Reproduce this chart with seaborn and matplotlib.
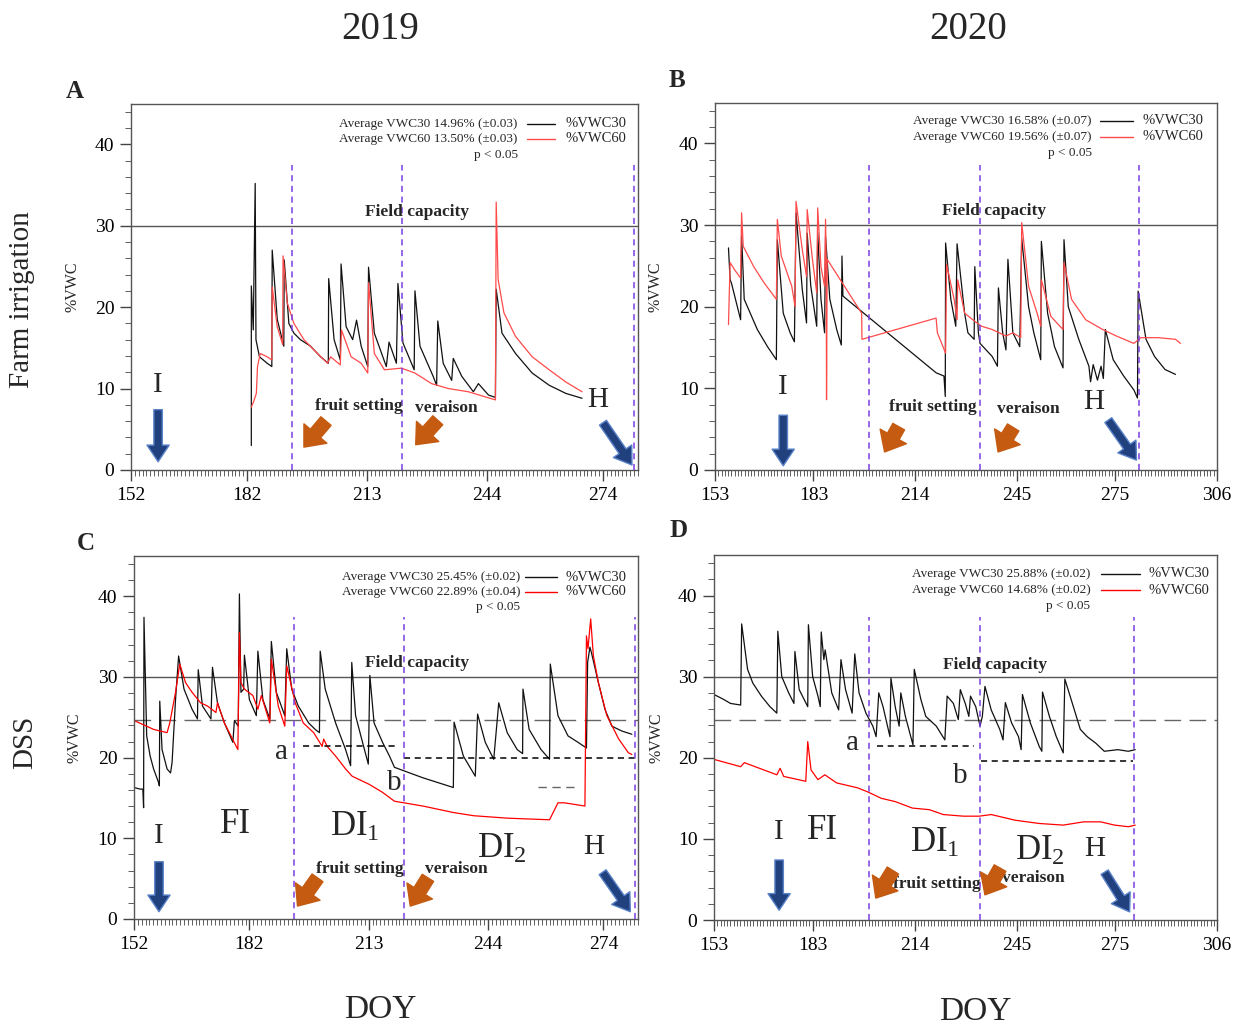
import matplotlib
matplotlib.use("Agg")
import matplotlib.pyplot as plt
import seaborn as sns
import pandas as pd
from matplotlib.ticker import MultipleLocator

# ---------------- data: (DOY, %VWC) ----------------
A_VWC30 = [(183.1, 3.0), (183.1, 22.6), (183.6, 17.2), (184.1, 35.2), (184.3, 16.0), (185.2, 13.9),
           (187.2, 13.1), (188.4, 12.7), (188.5, 27.0), (189.8, 18.5), (191.5, 15.2), (191.6, 25.8),
           (192.8, 18.0), (194.1, 16.8), (195.8, 16.0), (198.4, 15.2), (201.0, 13.9), (203.0, 13.1),
           (203.1, 23.5), (204.5, 16.0), (206.1, 13.5), (206.3, 25.3), (207.6, 17.6), (209.3, 16.0),
           (210.3, 18.4), (211.5, 15.2), (213.2, 12.7), (213.4, 24.9), (214.9, 16.8), (218.0, 12.7),
           (218.7, 15.7), (220.6, 13.1), (221.0, 22.9), (222.3, 15.6), (225.2, 12.3), (225.4, 22.0),
           (226.7, 15.2), (230.1, 11.5), (231.0, 10.4), (231.3, 18.3), (232.7, 13.1), (234.9, 11.0),
           (235.3, 13.7), (237.5, 11.5), (240.5, 9.6), (241.8, 10.6), (244.4, 9.2), (246.2, 8.9),
           (246.4, 22.2), (247.9, 16.8), (251.4, 14.3), (255.7, 11.9), (260.1, 10.4), (264.4, 9.4),
           (268.6, 8.8)]
A_VWC60 = [(183.1, 7.7), (183.7, 8.4), (184.4, 9.4), (184.7, 12.7), (185.4, 14.3), (187.2, 13.9),
           (188.4, 13.5), (188.5, 22.5), (189.8, 17.6), (191.2, 15.4), (191.3, 26.3), (192.4, 20.5),
           (194.1, 18.0), (196.7, 16.0), (200.2, 14.3), (202.8, 13.1), (203.6, 13.9), (206.1, 12.9),
           (206.4, 17.2), (208.9, 13.9), (211.5, 13.1), (213.2, 11.9), (213.4, 23.0), (214.9, 14.3),
           (217.5, 12.3), (221.9, 12.5), (225.4, 11.9), (229.7, 10.6), (234.0, 10.0), (239.2, 9.6),
           (242.7, 9.1), (246.2, 8.6), (246.4, 32.9), (246.9, 23.4), (248.4, 19.3), (251.4, 16.4),
           (255.7, 13.9), (260.1, 12.3), (264.4, 10.8), (268.6, 9.6)]

B_VWC30 = [(157.1, 27.2), (157.6, 23.3), (158.0, 22.9), (160.8, 18.4), (161.1, 28.7), (161.9, 20.9),
           (165.9, 17.2), (169.0, 15.1), (171.7, 13.5), (172.0, 28.2), (173.8, 19.2), (175.9, 16.8),
           (177.2, 15.7), (177.7, 31.5), (179.6, 22.1), (180.9, 18.0), (181.1, 29.0), (182.2, 22.5),
           (184.0, 17.6), (184.3, 29.1), (185.3, 20.9), (186.4, 16.8), (186.7, 28.6), (188.0, 20.9),
           (190.1, 17.2), (191.5, 15.3), (191.7, 26.2), (192.0, 21.3), (220.4, 11.9), (222.8, 11.5),
           (223.2, 9.0), (223.3, 27.8), (224.9, 20.9), (226.4, 17.6), (226.8, 27.7), (229.1, 19.2),
           (230.1, 16.8), (232.0, 16.0), (232.2, 24.9), (233.3, 16.8), (233.8, 15.5), (237.5, 13.9),
           (239.1, 12.7), (239.4, 22.3), (240.7, 16.8), (241.7, 14.7), (242.3, 25.8), (243.8, 16.8),
           (245.9, 15.1), (246.5, 28.4), (248.6, 20.0), (250.2, 16.8), (252.3, 13.5), (252.5, 28.0),
           (254.4, 19.2), (256.5, 15.1), (259.1, 12.5), (259.4, 28.2), (260.7, 20.0), (263.9, 16.0),
           (267.0, 12.7), (267.5, 10.8), (268.3, 12.9), (269.6, 11.0), (270.7, 12.7), (271.4, 11.2),
           (272.0, 17.2), (274.4, 13.5), (277.6, 11.5), (280.7, 9.8), (281.8, 8.8), (282.0, 21.9),
           (284.4, 16.0), (287.0, 13.9), (290.2, 12.3), (293.4, 11.7)]
B_VWC60 = [(157.1, 17.8), (157.6, 25.4), (159.0, 24.5), (160.8, 23.5), (161.1, 31.5), (161.6, 27.4),
           (164.8, 24.9), (168.0, 22.9), (171.7, 20.9), (172.0, 30.7), (173.2, 26.2), (176.4, 22.5),
           (177.4, 20.0), (177.7, 32.9), (179.6, 27.0), (180.9, 23.7), (181.1, 31.9), (182.7, 25.8),
           (184.0, 21.7), (184.3, 32.1), (185.3, 24.9), (186.4, 22.5), (186.7, 30.7), (186.9, 24.9),
           (187.0, 8.6), (187.2, 25.8), (197.7, 19.2), (197.8, 16.0), (220.4, 18.6), (220.8, 16.8),
           (223.3, 14.3), (223.6, 25.2), (225.9, 20.9), (226.8, 18.4), (227.0, 23.3), (229.1, 19.2),
           (232.2, 18.2), (234.3, 17.6), (237.5, 17.2), (241.7, 16.4), (243.8, 16.8), (246.2, 16.2),
           (246.5, 30.3), (248.6, 22.5), (251.2, 19.2), (252.3, 17.6), (252.5, 23.3), (255.4, 18.8),
           (259.1, 17.2), (259.4, 25.4), (261.7, 20.9), (266.0, 18.4), (271.2, 17.2), (275.4, 16.4),
           (280.7, 15.5), (282.8, 16.2), (288.1, 16.2), (293.4, 16.0), (294.9, 15.5)]

C_VWC30 = [(152.0, 16.3), (153.6, 16.1), (154.3, 16.1), (154.5, 13.8), (154.6, 37.4), (155.3, 22.7),
           (156.2, 20.2), (157.1, 18.6), (158.4, 16.9), (158.6, 16.5), (158.7, 27.0), (159.3, 21.0),
           (160.6, 18.6), (161.5, 18.1), (161.9, 19.4), (162.8, 27.2), (163.6, 32.6), (165.0, 28.5),
           (167.1, 26.0), (168.5, 24.8), (168.7, 30.9), (169.8, 26.4), (172.0, 24.8), (172.4, 31.2),
           (173.7, 26.8), (175.5, 24.3), (177.7, 21.9), (178.1, 24.6), (179.1, 23.9), (179.4, 40.3),
           (179.8, 28.1), (180.5, 28.5), (180.7, 32.7), (182.0, 27.2), (183.8, 25.2), (184.2, 33.2),
           (185.5, 27.2), (187.3, 24.8), (187.7, 34.4), (189.0, 28.1), (191.2, 25.2), (191.7, 33.5),
           (193.0, 28.5), (194.7, 26.4), (197.4, 24.3), (199.1, 23.5), (200.2, 23.1), (200.4, 33.2),
           (201.7, 28.5), (204.4, 24.3), (207.0, 21.0), (208.3, 19.0), (208.6, 31.8), (209.6, 25.2),
           (211.4, 21.9), (212.9, 19.2), (213.3, 30.2), (214.4, 24.3), (216.6, 21.9), (218.4, 20.2),
           (219.7, 18.8), (227.1, 17.5), (235.0, 16.3), (235.2, 24.4), (237.6, 20.2), (240.7, 17.7),
           (241.3, 25.4), (243.3, 21.9), (245.5, 19.8), (246.8, 26.8), (249.0, 23.1), (251.6, 21.0),
           (253.0, 20.5), (253.1, 28.5), (254.7, 23.5), (257.8, 21.0), (260.0, 19.8), (260.2, 31.6),
           (262.2, 25.2), (264.8, 22.7), (267.4, 21.9), (269.6, 21.2), (269.9, 31.8), (270.5, 33.7),
           (270.9, 33.0), (272.7, 29.3), (274.4, 26.0), (276.2, 23.9), (278.8, 23.3), (281.4, 22.9)]
C_VWC60 = [(152.0, 24.6), (155.3, 23.9), (157.1, 23.5), (160.6, 23.1), (161.3, 24.3), (162.8, 28.1),
           (163.9, 31.6), (165.4, 29.3), (167.1, 28.1), (169.3, 26.8), (171.1, 26.4), (173.3, 25.6),
           (173.7, 26.8), (175.5, 24.3), (177.2, 22.7), (179.0, 21.0), (179.4, 35.5), (179.8, 29.3),
           (180.7, 28.5), (182.9, 27.7), (184.2, 26.0), (185.1, 27.7), (187.3, 24.3), (187.7, 32.2),
           (189.5, 26.4), (191.2, 23.9), (191.7, 31.4), (193.9, 26.8), (196.0, 24.3), (198.7, 23.1),
           (200.9, 21.4), (201.3, 22.3), (202.2, 21.4), (204.4, 20.2), (207.0, 18.6), (208.7, 17.7),
           (213.1, 16.7), (216.6, 15.7), (219.7, 14.6), (227.1, 14.0), (235.0, 13.2), (240.3, 12.8),
           (249.0, 12.5), (260.0, 12.3), (262.2, 14.4), (263.9, 14.4), (269.2, 14.0), (269.6, 35.1),
           (270.0, 33.5), (270.7, 37.2), (271.4, 32.6), (272.7, 29.3), (274.9, 25.2), (278.0, 22.3),
           (280.5, 20.6), (281.4, 20.4)]

D_VWC30 = [(153.0, 27.8), (155.9, 27.2), (158.0, 26.7), (161.1, 26.5), (161.4, 36.5), (163.2, 30.9),
           (164.8, 29.2), (167.4, 27.6), (170.0, 26.3), (172.1, 25.5), (172.4, 35.6), (173.6, 30.0),
           (175.7, 28.0), (177.3, 26.7), (177.6, 33.1), (178.9, 28.4), (181.5, 26.3), (181.7, 36.4),
           (183.0, 30.0), (184.6, 27.6), (185.3, 26.3), (185.6, 35.5), (186.4, 32.1), (186.8, 33.3),
           (188.8, 28.0), (190.9, 25.9), (191.6, 32.1), (193.0, 28.4), (195.0, 25.5), (195.8, 32.8),
           (197.1, 28.0), (199.2, 25.5), (201.3, 23.9), (202.3, 22.6), (203.1, 28.0), (204.4, 26.3),
           (206.5, 22.6), (206.8, 29.8), (208.1, 26.3), (209.3, 23.9), (209.8, 28.0), (211.2, 25.1),
           (213.5, 21.6), (213.9, 30.9), (215.9, 27.2), (217.4, 25.1), (220.6, 23.9), (223.2, 22.2),
           (223.9, 27.6), (225.8, 26.7), (227.3, 24.7), (227.9, 28.4), (229.4, 26.7), (230.5, 25.1),
           (231.0, 27.6), (232.6, 26.3), (233.9, 23.9), (234.6, 25.1), (235.4, 28.8), (237.3, 25.9),
           (239.9, 23.5), (240.9, 22.2), (241.6, 26.8), (243.5, 24.3), (245.6, 22.6), (246.4, 21.0),
           (246.8, 27.8), (249.2, 24.3), (251.9, 21.4), (252.7, 20.8), (252.9, 28.1), (255.0, 25.1),
           (257.1, 22.6), (259.2, 20.6), (259.7, 29.7), (261.3, 27.6), (264.4, 23.5), (266.5, 22.6),
           (269.1, 21.8), (271.7, 20.8), (275.8, 21.0), (279.0, 20.8), (281.1, 21.0)]
D_VWC60 = [(153.0, 19.8), (161.1, 18.9), (162.2, 19.4), (172.1, 17.9), (173.1, 18.7), (174.2, 17.7),
           (180.9, 17.1), (181.5, 22.0), (182.5, 18.5), (184.6, 17.3), (186.7, 17.9), (190.3, 16.9),
           (196.6, 16.3), (199.7, 15.8), (203.9, 15.0), (208.1, 14.6), (213.3, 13.8), (218.5, 13.6),
           (222.7, 13.0), (228.9, 12.8), (233.6, 12.8), (237.3, 13.0), (244.6, 12.3), (251.9, 11.9),
           (259.2, 11.7), (265.4, 12.1), (270.6, 12.1), (274.8, 11.7), (279.0, 11.5), (281.1, 11.7)]

X_TICKS_2019 = [152, 182, 213, 244, 274]
X_TICKS_2020 = [153, 183, 214, 245, 275, 306]
Y_TICKS = [0, 10, 20, 30, 40]
FIELD_CAPACITY = 30
DSS_THRESHOLD = 24.7
STAGES = {"A": [193.5, 222.1, 282.0], "B": [199.8, 233.8, 282.3],
          "C": [193.7, 222.3, 282.1], "D": [200.2, 233.9, 280.7]}
LEGEND_TEXT = {
    "A": ("Average VWC30 14.96% (±0.03)", "Average VWC60 13.50% (±0.03)"),
    "B": ("Average VWC30 16.58% (±0.07)", "Average VWC60 19.56% (±0.07)"),
    "C": ("Average VWC30 25.45% (±0.02)", "Average VWC60 22.89% (±0.04)"),
    "D": ("Average VWC30 25.88% (±0.02)", "Average VWC60 14.68% (±0.02)"),
}
THRESH_A = {"C": (21.5, 196.0, 220.1), "D": (21.4, 202.6, 232.0)}
THRESH_B = {"C": (19.9, 222.3, 282.5), "D": (19.6, 234.1, 280.5)}

# ---------------- styling ----------------
sns.set_theme(style="ticks")
plt.rcParams["font.family"] = ["Liberation Serif", "DejaVu Serif"]
plt.rcParams["mathtext.fontset"] = "custom"
plt.rcParams["mathtext.rm"] = "Liberation Serif"
plt.rcParams["mathtext.it"] = "Liberation Serif:italic"

BLACK = "#111111"
PURPLE = "#7b3fe0"
BLUE_FC, BLUE_EC = "#21407e", "#5a82c8"
ORANGE = "#c55a11"

fig = plt.figure(figsize=(12.36, 10.26), dpi=100)

panels = {
    "A": dict(rect=[0.106, 0.542, 0.410, 0.357], xlim=(152, 283), ticks=X_TICKS_2019,
              d30=A_VWC30, d60=A_VWC60, red="#ff4a4a"),
    "B": dict(rect=[0.5785, 0.542, 0.406, 0.358], xlim=(153, 306), ticks=X_TICKS_2020,
              d30=B_VWC30, d60=B_VWC60, red="#ff4a4a"),
    "C": dict(rect=[0.1084, 0.1043, 0.4078, 0.3538], xlim=(152, 283), ticks=X_TICKS_2019,
              d30=C_VWC30, d60=C_VWC60, red="#ff0000"),
    "D": dict(rect=[0.5777, 0.1033, 0.407, 0.3558], xlim=(153, 306), ticks=X_TICKS_2020,
              d30=D_VWC30, d60=D_VWC60, red="#ff0000"),
}

legend_pos = {
    "A": (0.763, 0.781, 0.836, 0.857, (0.945, 0.904, 0.861)),
    "B": (0.751, 0.767, 0.833, 0.851, (0.951, 0.907, 0.864)),
    "C": (0.766, 0.776, 0.839, 0.857, (0.942, 0.901, 0.860)),
    "D": (0.748, 0.770, 0.847, 0.863, (0.948, 0.904, 0.860)),
}

ylab_x = {"A": -0.100, "B": -0.102, "C": -0.103, "D": -0.099}


def arrow(ax, tail, head, kind):
    if kind == "blue":
        style = "simple,head_length=0.75,head_width=1.0,tail_width=0.38"
        fc, ec = BLUE_FC, BLUE_EC
    else:
        style = "simple,head_length=0.8,head_width=1.35,tail_width=0.6"
        fc, ec = ORANGE, ORANGE
    ax.annotate("", xy=head, xytext=tail,
                arrowprops=dict(arrowstyle=style, fc=fc, ec=ec, lw=1.0,
                                mutation_scale=16, shrinkA=0, shrinkB=0))


axes = {}
for key, p in panels.items():
    ax = fig.add_axes(p["rect"])
    axes[key] = ax
    rows = [(d, v, "%VWC30") for d, v in p["d30"]] + [(d, v, "%VWC60") for d, v in p["d60"]]
    df = pd.DataFrame(rows, columns=["DOY", "VWC", "Sensor"])
    sns.lineplot(data=df, x="DOY", y="VWC", hue="Sensor", hue_order=["%VWC30", "%VWC60"],
                 palette={"%VWC30": BLACK, "%VWC60": p["red"]}, estimator=None, sort=False,
                 legend=False, lw=0.9, ax=ax)
    ax.axhline(FIELD_CAPACITY, color="#555555", lw=1.0, zorder=1)
    ax.vlines(STAGES[key], 0, 37.4, colors=PURPLE, linestyles=(0, (4, 3)), lw=1.1, zorder=3)

    ax.set_xlim(*p["xlim"])
    ax.set_ylim(0, 45)
    ax.set_xticks(p["ticks"])
    ax.set_yticks(Y_TICKS)
    ax.xaxis.set_minor_locator(MultipleLocator(1))
    ax.yaxis.set_minor_locator(MultipleLocator(2))
    ax.tick_params(which="major", direction="out", length=8, width=1.0, labelsize=14,
                   color="#444444", labelcolor="black", pad=4)
    ax.tick_params(which="minor", direction="out", length=4, width=0.6, color="#444444")
    for s in ax.spines.values():
        s.set_visible(True)
        s.set_color("#555555")
        s.set_linewidth(1.0)
    ax.set_xlabel("")
    ax.set_ylabel("%VWC", fontsize=11.5)
    ax.yaxis.set_label_coords(ylab_x[key], 0.5)

    # custom legend
    xt, xl0, xl1, xlab, ys = legend_pos[key]
    t30, t60 = LEGEND_TEXT[key]
    ax.text(xt, ys[0], t30, transform=ax.transAxes, ha="right", va="center", fontsize=9.5)
    ax.text(xt, ys[1], t60, transform=ax.transAxes, ha="right", va="center", fontsize=9.5)
    ax.text(xt, ys[2], "p < 0.05", transform=ax.transAxes, ha="right", va="center", fontsize=9.5)
    ax.plot([xl0, xl1], [ys[0]] * 2, transform=ax.transAxes, color=BLACK, lw=1.0)
    ax.plot([xl0, xl1], [ys[1]] * 2, transform=ax.transAxes, color=p["red"], lw=1.0)
    ax.text(xlab, ys[0], "%VWC30", transform=ax.transAxes, ha="left", va="center", fontsize=10.5)
    ax.text(xlab, ys[1], "%VWC60", transform=ax.transAxes, ha="left", va="center", fontsize=10.5)

bold = dict(fontsize=12.5, fontweight="bold", ha="center", va="center")
big = dict(fontsize=21, ha="center", va="center")
huge = dict(fontsize=25, ha="center", va="center")

# Panel A
ax = axes["A"]
ax.text(225.9, 31.7, "Field capacity", **bold)
ax.text(159.0, 10.4, "I", **big)
ax.text(210.9, 7.9, "fruit setting", **bold)
ax.text(233.4, 7.6, "veraison", **bold)
ax.text(272.7, 8.6, "H", **big)
arrow(ax, (159.0, 7.4), (159.0, 1.0), "blue")
arrow(ax, (202.4, 6.0), (196.7, 2.8), "orange")
arrow(ax, (231.3, 6.1), (225.6, 3.1), "orange")
arrow(ax, (274.0, 5.8), (281.5, 0.6), "blue")

# Panel B
ax = axes["B"]
ax.text(238.1, 31.7, "Field capacity", **bold)
ax.text(173.8, 10.1, "I", **big)
ax.text(219.4, 7.7, "fruit setting", **bold)
ax.text(248.5, 7.5, "veraison", **bold)
ax.text(268.4, 8.3, "H", **big)
arrow(ax, (173.8, 6.7), (173.8, 0.5), "blue")
arrow(ax, (209.0, 5.3), (204.7, 2.2), "orange")
arrow(ax, (243.9, 5.2), (239.3, 2.2), "orange")
arrow(ax, (272.9, 6.1), (281.5, 1.2), "blue")

# Panel C
ax = axes["C"]
ax.axhline(DSS_THRESHOLD, color="#666666", lw=1.0, ls=(0, (12, 6)), zorder=1)
lvl, x0, x1 = THRESH_A["C"]
ax.hlines(lvl, x0, x1, colors="black", linestyles=(0, (4, 3)), lw=1.1)
lvl, x0, x1 = THRESH_B["C"]
ax.hlines(lvl, x0, x1, colors="black", linestyles=(0, (4, 3)), lw=1.1)
ax.hlines(16.4, 256.9, 266.5, colors="#666666", linestyles=(0, (6, 4)), lw=1.0)
ax.text(225.6, 31.7, "Field capacity", **bold)
ax.text(190.3, 20.7, "a", **big)
ax.text(219.6, 16.9, "b", **big)
ax.text(158.5, 10.3, "I", **big)
ax.text(178.4, 11.7, "FI", **huge)
ax.text(209.3, 11.3, r"DI$_\mathregular{1}$", **huge)
ax.text(247.6, 8.6, r"DI$_\mathregular{2}$", **huge)
ax.text(271.4, 8.9, "H", **big)
ax.text(210.8, 6.2, "fruit setting", **bold)
ax.text(235.9, 6.2, "veraison", **bold)
arrow(ax, (158.5, 7.1), (158.5, 0.9), "blue")
arrow(ax, (199.7, 5.1), (194.5, 1.6), "orange")
arrow(ax, (228.4, 5.1), (223.8, 1.6), "orange")
arrow(ax, (273.8, 5.8), (281.0, 0.9), "blue")

# Panel D
ax = axes["D"]
ax.axhline(DSS_THRESHOLD, color="#666666", lw=1.0, ls=(0, (12, 6)), zorder=1)
lvl, x0, x1 = THRESH_A["D"]
ax.hlines(lvl, x0, x1, colors="black", linestyles=(0, (4, 3)), lw=1.1)
lvl, x0, x1 = THRESH_B["D"]
ax.hlines(lvl, x0, x1, colors="black", linestyles=(0, (4, 3)), lw=1.1)
ax.text(238.4, 31.4, "Field capacity", **bold)
ax.text(195.2, 21.8, "a", **big)
ax.text(227.8, 17.8, "b", **big)
ax.text(172.8, 10.8, "I", **big)
ax.text(186.1, 11.0, "FI", **huge)
ax.text(220.2, 9.5, r"DI$_\mathregular{1}$", **huge)
ax.text(252.1, 8.5, r"DI$_\mathregular{2}$", **huge)
ax.text(268.8, 8.8, "H", **big)
ax.text(220.8, 4.5, "fruit setting", **bold)
ax.text(250.0, 5.2, "veraison", **bold)
arrow(ax, (172.8, 7.4), (172.8, 1.2), "blue")
arrow(ax, (207.4, 6.1), (202.2, 2.7), "orange")
arrow(ax, (240.0, 6.4), (235.4, 3.1), "orange")
arrow(ax, (271.8, 5.9), (279.4, 1.0), "blue")

# Figure-level labels
fig.text(0.3074, 0.9708, "2019", fontsize=28, ha="center", va="center")
fig.text(0.783, 0.9708, "2020", fontsize=28, ha="center", va="center")
fig.text(0.3074, 0.0156, "DOY", fontsize=24, ha="center", va="center")
fig.text(0.789, 0.0136, "DOY", fontsize=24, ha="center", va="center")
fig.text(0.0178, 0.7076, "Farm irrigation", fontsize=21, rotation=90, ha="center", va="center")
fig.text(0.0202, 0.2768, "DSS", fontsize=21, rotation=90, ha="center", va="center")
fig.text(0.0607, 0.911, "A", fontsize=18, fontweight="bold", ha="center", va="center")
fig.text(0.5477, 0.922, "B", fontsize=18, fontweight="bold", ha="center", va="center")
fig.text(0.0696, 0.4698, "C", fontsize=18, fontweight="bold", ha="center", va="center")
fig.text(0.549, 0.4825, "D", fontsize=18, fontweight="bold", ha="center", va="center")

fig.savefig("out.png", dpi=100, facecolor="white")
